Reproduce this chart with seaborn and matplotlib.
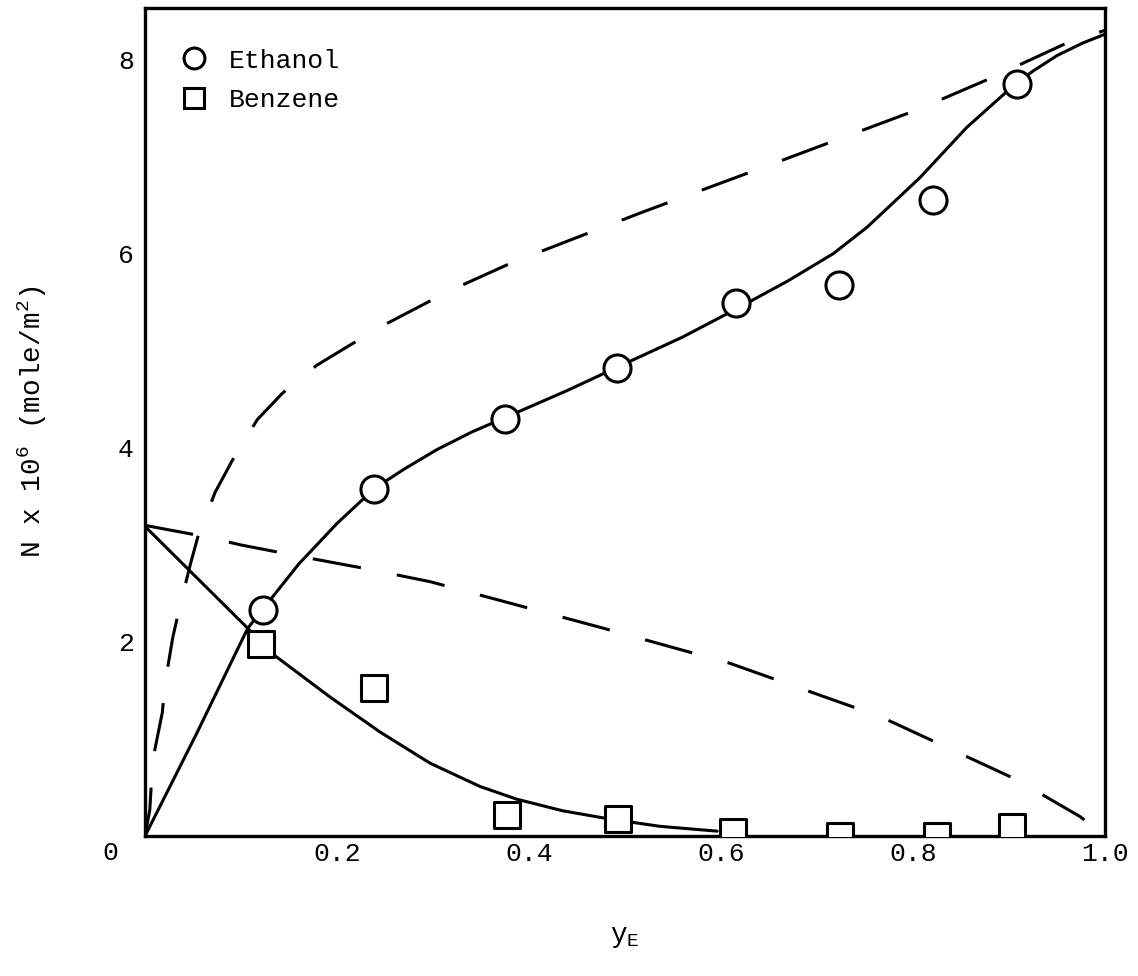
import matplotlib
matplotlib.use("Agg")
import matplotlib.pyplot as plt
from matplotlib.lines import Line2D
import seaborn as sns

# Measured adsorption points (mole fraction of ethanol in the vapour, y_E)
ethanol_x = [0.123, 0.239, 0.375, 0.492, 0.616, 0.723, 0.821, 0.908]
ethanol_y = [2.33, 3.57, 4.30, 4.82, 5.49, 5.68, 6.55, 7.75]

benzene_x = [0.121, 0.239, 0.377, 0.493, 0.613, 0.724, 0.825, 0.903]
benzene_y = [1.98, 1.52, 0.22, 0.18, 0.04, 0.00, 0.00, 0.09]

# Smooth curves drawn through the data (solid)
ethanol_fit_x = [0.0, 0.054, 0.107, 0.123, 0.160, 0.200, 0.239, 0.270, 0.304,
                 0.340, 0.375, 0.440, 0.492, 0.560, 0.616, 0.670, 0.717,
                 0.752, 0.807, 0.856, 0.908, 0.925, 0.950, 0.977, 1.0]
ethanol_fit_y = [0.0, 1.06, 2.14, 2.34, 2.80, 3.22, 3.58, 3.78, 3.98,
                 4.16, 4.31, 4.59, 4.83, 5.14, 5.43, 5.72, 6.00,
                 6.27, 6.78, 7.30, 7.76, 7.88, 8.04, 8.17, 8.26]

benzene_fit_x = [0.0, 0.107, 0.135, 0.193, 0.245, 0.297, 0.349, 0.387,
                 0.435, 0.481, 0.536, 0.596]
benzene_fit_y = [3.19, 2.14, 1.86, 1.43, 1.07, 0.75, 0.51, 0.38,
                 0.26, 0.18, 0.10, 0.05]

# Ideal-solution predictions (dashed)
ethanol_ideal_x = [0.0, 0.005, 0.008, 0.018, 0.021, 0.029, 0.036, 0.047, 0.055,
                   0.073, 0.091, 0.117, 0.143, 0.179, 0.214, 0.252, 0.318,
                   0.383, 0.519, 0.658, 0.804, 0.877, 0.956, 1.0]
ethanol_ideal_y = [0.0, 0.27, 0.78, 1.27, 1.58, 2.05, 2.35, 2.79, 3.08,
                   3.54, 3.87, 4.29, 4.56, 4.85, 5.06, 5.28, 5.62,
                   5.91, 6.43, 6.94, 7.48, 7.79, 8.15, 8.30]

benzene_ideal_x = [0.0, 0.065, 0.099, 0.167, 0.227, 0.297, 0.474, 0.609,
                   0.766, 0.908, 0.974, 0.995]
benzene_ideal_y = [3.20, 3.08, 3.00, 2.87, 2.76, 2.62, 2.15, 1.78,
                   1.23, 0.58, 0.20, 0.04]

x_ticks = [0.2, 0.4, 0.6, 0.8, 1.0]
x_tick_labels = ["0.2", "0.4", "0.6", "0.8", "1.0"]
y_ticks = [2, 4, 6, 8]
y_tick_labels = ["2", "4", "6", "8"]

sns.set_theme(style="white")
plt.rcParams["font.family"] = ["Liberation Mono", "DejaVu Sans"]
plt.rcParams["text.color"] = "black"
plt.rcParams["axes.labelcolor"] = "black"
plt.rcParams["mathtext.fontset"] = "custom"
plt.rcParams["mathtext.rm"] = "Liberation Mono"
plt.rcParams["mathtext.it"] = "Liberation Mono"
plt.rcParams["mathtext.bf"] = "Liberation Mono:bold"

FS = 19
W, H = 1138, 976
fig = plt.figure(figsize=(W / 100, H / 100), dpi=100)
ax = fig.add_axes([145 / W, (H - 836) / H, 960 / W, (836 - 8) / H])

LW = 2.2
dash = (0, (16, 12))

sns.lineplot(x=ethanol_ideal_x, y=ethanol_ideal_y, ax=ax, color="black",
             lw=LW, linestyle=dash, sort=False, estimator=None)
sns.lineplot(x=benzene_ideal_x, y=benzene_ideal_y, ax=ax, color="black",
             lw=LW, linestyle=dash, sort=False, estimator=None)
sns.lineplot(x=ethanol_fit_x, y=ethanol_fit_y, ax=ax, color="black",
             lw=LW, sort=False, estimator=None)
sns.lineplot(x=benzene_fit_x, y=benzene_fit_y, ax=ax, color="black",
             lw=LW, sort=False, estimator=None)

sns.scatterplot(x=ethanol_x, y=ethanol_y, ax=ax, marker="o", s=380,
                color="white", edgecolor="black", linewidth=LW, zorder=4)
sns.scatterplot(x=benzene_x, y=benzene_y, ax=ax, marker="s", s=340,
                color="white", edgecolor="black", linewidth=LW, zorder=4)

ax.set_xlim(0, 1.0)
ax.set_ylim(0, 8.53)
ax.set_xticks(x_ticks)
ax.set_xticklabels(x_tick_labels)
ax.set_yticks(y_ticks)
ax.set_yticklabels(y_tick_labels)
ax.tick_params(axis="both", direction="in", length=14, width=2,
               labelsize=FS, pad=8, colors="black")
ax.tick_params(axis="x", pad=4)

for sp in ax.spines.values():
    sp.set_visible(True)
    sp.set_color("black")
    sp.set_linewidth(2.4)

ax.set_xlabel("y$_\\mathrm{E}$", fontsize=FS + 1)
ax.xaxis.set_label_coords(0.5, -0.106)
ax.set_ylabel("N x 10$^6$ (mole/m$^2$)", fontsize=FS + 1)
ax.yaxis.set_label_coords(-0.100, 0.5)

# shared origin label
fig.text(110 / W, 1 - 853 / H, "0", ha="center", va="center", fontsize=FS)

handles = [
    Line2D([], [], ls="none", marker="o", ms=15, mfc="white", mec="black", mew=LW),
    Line2D([], [], ls="none", marker="s", ms=14, mfc="white", mec="black", mew=LW),
]
ax.legend(handles, ["Ethanol", "Benzene"], loc="upper left",
          bbox_to_anchor=(0.037, 0.951), frameon=False, fontsize=FS,
          handlelength=1.0, handletextpad=0.85, labelspacing=0.6,
          borderaxespad=0, borderpad=0)

fig.savefig("out.png", dpi=100, facecolor="white")
